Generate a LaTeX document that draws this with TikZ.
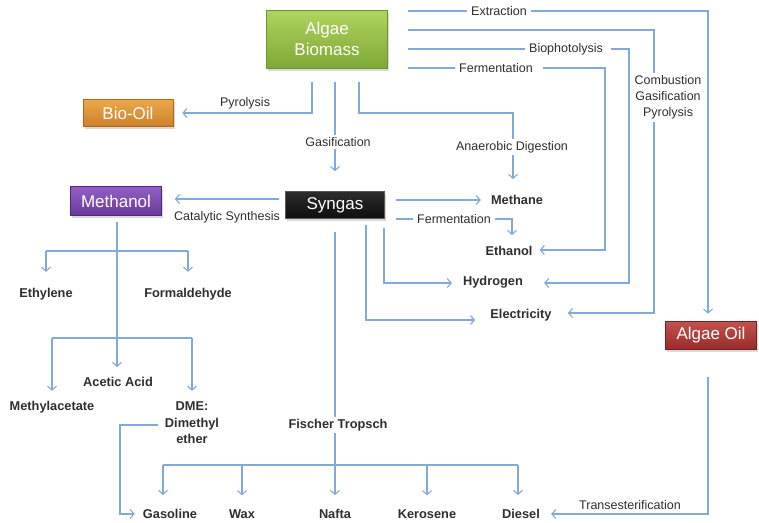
\documentclass[tikz,border=0pt]{standalone}
\usepackage{fontspec}
\setmainfont{Liberation Sans}
\usetikzlibrary{arrows.meta,shadows,calc}
\definecolor{ln}{HTML}{82A9DA}
\definecolor{txt}{HTML}{2E2E2E}
\tikzset{
  conn/.style={draw=ln, line width=1.1pt},
  arr/.style={conn, -{Straight Barb[length=4pt,width=9pt,line width=1.1pt]}},
  boxbase/.style={text=white, font=\fontsize{17}{20}\selectfont, align=center, inner sep=2pt,
     line width=0.6pt, drop shadow={shadow xshift=1.5pt, shadow yshift=-2.5pt, opacity=0.3}},
  lbl/.style={text=txt, font=\fontsize{12.5}{15}\selectfont, inner xsep=4pt, inner ysep=2pt, align=center},
  prod/.style={text=txt, font=\bfseries\fontsize{12.8}{16}\selectfont, inner sep=2pt, align=center},
}
\begin{document}
\begin{tikzpicture}[x=1pt,y=-1pt]
\useasboundingbox (0,0) rectangle (759,522);
% boxes
\node[boxbase, minimum width=121, minimum height=58, top color={rgb,255:red,176;green,212;blue,96}, bottom color={rgb,255:red,126;green,168;blue,52}, draw={rgb,255:red,110;green,150;blue,44}, font=\fontsize{17}{21}\selectfont] (bio) at (327,39) {Algae\\Biomass};
\node[boxbase, minimum width=90, minimum height=27, top color={rgb,255:red,236;green,168;blue,76}, bottom color={rgb,255:red,206;green,128;blue,40}, draw={rgb,255:red,170;green,104;blue,28}] (oil) at (128,113) {Bio-Oil};
\node[boxbase, minimum width=91, minimum height=29, top color={rgb,255:red,146;green,94;blue,196}, bottom color={rgb,255:red,106;green,58;blue,154}, draw={rgb,255:red,80;green,40;blue,120}] (meth) at (116,201) {Methanol};
\node[boxbase, minimum width=99, minimum height=27, top color={rgb,255:red,44;green,44;blue,44}, bottom color={rgb,255:red,14;green,14;blue,14}, draw={rgb,255:red,90;green,90;blue,90}] (syn) at (335,205) {Syngas};
\node[boxbase, minimum width=91, minimum height=28, top color={rgb,255:red,194;green,82;blue,78}, bottom color={rgb,255:red,152;green,44;blue,42}, draw={rgb,255:red,120;green,30;blue,28}] (aoil) at (711,335) {Algae Oil};

% process labels
\node[lbl] (ext) at (499,11) {Extraction};
\node[lbl] (bph) at (566,49) {Biophotolysis};
\node[lbl] (fer1) at (496,68) {Fermentation};
\node[lbl, font=\fontsize{12.5}{16}\selectfont] (cgp) at (668,97) {Combustion\\Gasification\\Pyrolysis};
\node[lbl] (pyr) at (245,103) {Pyrolysis};
\node[lbl] (gas) at (338,142) {Gasification};
\node[lbl] (ana) at (512,147) {Anaerobic Digestion};
\node[lbl] (cat) at (227,217) {Catalytic Synthesis};
\node[lbl] (fer2) at (454,219) {Fermentation};
\node[lbl] (trans) at (630,505) {Transesterification};

% products
\node[prod] (methane) at (517,200) {Methane};
\node[prod] (ethanol) at (509,251) {Ethanol};
\node[prod] (hydro) at (493,282) {Hydrogen};
\node[prod] (elec) at (521,315) {Electricity};
\node[prod] (ethyl) at (46,294) {Ethylene};
\node[prod] (form) at (188,294) {Formaldehyde};
\node[prod] (acet) at (118,382) {Acetic Acid};
\node[prod] (macet) at (52,407) {Methylacetate};
\node[prod, font=\bfseries\fontsize{12.8}{16.5}\selectfont] (dme) at (192,423) {DME:\\Dimethyl\\ether};
\node[prod] (ft) at (338,425) {Fischer Tropsch};
\node[prod] (gasol) at (170,514) {Gasoline};
\node[prod] (wax) at (242,514) {Wax};
\node[prod] (nafta) at (335,514) {Nafta};
\node[prod] (kero) at (427,514) {Kerosene};
\node[prod] (dies) at (521,514) {Diesel};

% free ends and bends
\coordinate (b1) at (408,11);
\coordinate (b2) at (408,30);
\coordinate (b3) at (408,49);
\coordinate (b4) at (408,68);
\coordinate (d1) at (312,82);
\coordinate (d2) at (335,82);
\coordinate (d3) at (359,82);
\coordinate (s1) at (279,199);
\coordinate (s2) at (396,200);
\coordinate (s3) at (396,219);
\coordinate (s4) at (384,228);
\coordinate (s5) at (366,225);
\coordinate (s6) at (335,232);
\coordinate (bar) at (335,465);
\coordinate (m0) at (117,222);
\coordinate (dm) at (158,425);
\coordinate (ao) at (708,377);
\coordinate (k1) at (654,30);
\coordinate (k2) at (629,283);
\coordinate (k3) at (605,250);
\coordinate (k4) at (513,113);
\coordinate (xan) at (513,0);
\coordinate (xet) at (512,0);
\coordinate (y283) at (0,283);
\coordinate (y250) at (0,250);
\coordinate (y320) at (0,320);
\coordinate (y313) at (0,313);
\coordinate (g1) at (163,465);
\coordinate (g2) at (242,465);
\coordinate (g4) at (427,465);
\coordinate (g5) at (518,465);
\coordinate (mt) at (117,0);
\coordinate (e1) at (46,251);
\coordinate (e2) at (188,251);
\coordinate (a1) at (52,338);
\coordinate (a2) at (192,338);
\coordinate (dg) at (120,514);

% from biomass to the right
\draw[conn] (b1) -- (ext.west);
\draw[arr, shorten >=7pt] (ext.east) -| ($(aoil.north)+(-3,0)$);
\draw[conn] (b2) -- (k1) -- (k1 |- cgp.north);
\draw[arr, shorten >=14pt] ($(k1 |- cgp.south)+(0,1)$) |- (elec.east |- y313);
\draw[conn] (b3) -- (bph.west);
\draw[arr, shorten >=19pt] ($(bph.east)+(4,0)$) -| (k2) -- (hydro.east |- y283);
\draw[conn] (b4) -- (fer1.west);
\draw[arr, shorten >=5pt] ($(fer1.east)+(6,0)$) -| (k3) -- (ethanol.east |- y250);

% from biomass downward
\draw[arr, shorten >=9pt] (d1) |- (oil.east);
\draw[conn] (d2) -- (d2 |- gas.north);
\draw[arr, shorten >=20pt] (d2 |- gas.south) -- (d2 |- syn.north);
\draw[conn] (d3) |- (k4) -- (xan |- ana.north);
\draw[arr, shorten >=14pt] (xan |- ana.south) -- (xan |- methane.north);

% from syngas
\draw[arr, shorten >=13pt] (s1) -- (meth.east |- s1);
\draw[arr, shorten >=8pt] (s2) -- (methane.west |- s2);
\draw[conn] (s3) -- (fer2.west);
\draw[arr, shorten >=9pt] (fer2.east) -| (xet |- ethanol.north);
\draw[arr, shorten >=9pt] (s4) |- (hydro.west |- y283);
\draw[arr, shorten >=13pt] (s5) |- (elec.west |- y320);
\draw[conn] (s6) -- (s6 |- ft.north);
\draw[conn] (s6 |- ft.south) -- (bar);
\draw[conn] (g1) -- (g5);
\draw[arr, shorten >=12pt] (g1) -- (g1 |- gasol.north);
\draw[arr, shorten >=12pt] (g2) -- (g2 |- wax.north);
\draw[arr, shorten >=12pt] (bar) -- (bar |- nafta.north);
\draw[arr, shorten >=12pt] (g4) -- (g4 |- kero.north);
\draw[arr, shorten >=12pt] (g5) -- (g5 |- dies.north);

% DME to gasoline
\draw[arr, shorten >=6pt] (dm) -| (dg) -- (gasol.west);
% Algae oil to diesel
\draw[arr, shorten >=9pt] (ao) |- (dies.east);

% methanol tree
\draw[arr, shorten >=8pt] (m0) -- (mt |- acet.north);
\draw[conn] (e1) -- (e2);
\draw[arr, shorten >=14pt] (e1) -- (ethyl.north);
\draw[arr, shorten >=14pt] (e2) -- (form.north);
\draw[conn] (a1) -- (a2);
\draw[arr, shorten >=8pt] (a1) -- (macet.north);
\draw[arr, shorten >=9pt] (a2) -- (dme.north);
\end{tikzpicture}
\end{document}
